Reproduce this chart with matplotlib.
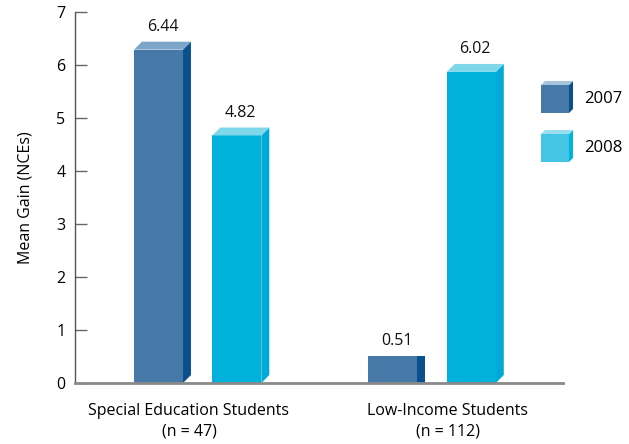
import matplotlib.pyplot as plt
from matplotlib.patches import Polygon, Rectangle

plt.rcParams['font.family'] = ['Open Sans', 'DejaVu Sans']

# data
groups = ['Special Education Students', 'Low-Income Students']
group_n = ['(n = 47)', '(n = 112)']
years = ['2007', '2008']
gain_2007 = [6.44, 0.51]
gain_2008 = [4.82, 6.02]

front = {'2007': '#4678A8', '2008': '#00B2DB'}
side = {'2007': '#0A4F8E', '2008': '#00A9D6'}
top = {'2007': '#7EA6C9', '2008': '#7FD7EA'}

W, H = 629, 444
fig = plt.figure(figsize=(W / 100, H / 100), dpi=100)
ax = fig.add_axes([75 / W, (H - 383) / H, (563 - 75) / W, (383 - 12) / H])

ax.set_xlim(-0.523, 1.558)
ax.set_ylim(0, 7)

off = 0.167     # bar offset from group center
bw = 0.209      # front face width
dx = 0.034      # depth, x units
dy = 0.15       # depth, y units
fs = 11.5


def bar3d(x, val, yr):
    xl, xr = x - bw / 2, x + bw / 2
    if val > 1:
        h, d = val - dy, dy
    else:
        # short bars are drawn flat on top in the original
        h, d = val, 0.0
    ax.add_patch(Rectangle((xl, 0), bw, h, fc=front[yr], ec='none', zorder=3))
    ax.add_patch(Polygon([(xr, 0), (xr + dx, d), (xr + dx, h + d), (xr, h)],
                         closed=True, fc=side[yr], ec='none', zorder=3))
    if d > 0:
        ax.add_patch(Polygon([(xl, h), (xl + dx, h + d), (xr + dx, h + d), (xr, h)],
                             closed=True, fc=top[yr], ec='none', zorder=3))
    ax.text(x + dx / 2, val + 0.13, f'{val:.2f}', ha='center', va='bottom',
            fontsize=fs, color='#111111')


for i in range(len(groups)):
    bar3d(i - off, gain_2007[i], '2007')
    bar3d(i + off, gain_2008[i], '2008')

# axes styling
for s in ['top', 'right']:
    ax.spines[s].set_visible(False)
ax.spines['left'].set_color('#555555')
ax.spines['left'].set_linewidth(1)
ax.spines['bottom'].set_color('#8a8a8a')
ax.spines['bottom'].set_linewidth(2)
ax.spines['bottom'].set_zorder(4)
ax.set_yticks(range(0, 8))
ax.tick_params(axis='y', direction='in', length=8.6, width=1, color='#666666',
               labelsize=fs, pad=7)
ax.set_xticks([])
ax.set_ylabel('Mean Gain (NCEs)', fontsize=fs, labelpad=16)

label_x = [-0.037, 1.067]
for i, g in enumerate(groups):
    ax.text(label_x[i], -0.53, g, ha='center', va='center', fontsize=fs,
            clip_on=False)
    ax.text(label_x[i], -0.92, group_n[i], ha='center', va='center', fontsize=fs,
            clip_on=False)

# legend with 3D boxes
leg_front = {'2007': '#4678A8', '2008': '#44C5E3'}
leg_side = {'2007': '#0A4F8E', '2008': '#00B3DC'}
leg_top = {'2007': '#A8C3DC', '2008': '#9ADFEF'}
leg_y = {'2007': 113, '2008': 162}


def fc(px, py):
    return (px / W, (H - py) / H)


for yr in years:
    x0, y0 = 541, leg_y[yr]
    w, h, d = 28, 28, 4
    fig.add_artist(Polygon([fc(x0, y0), fc(x0 + w, y0), fc(x0 + w, y0 - h), fc(x0, y0 - h)],
                           closed=True, fc=leg_front[yr], ec='none', transform=fig.transFigure))
    fig.add_artist(Polygon([fc(x0 + w, y0), fc(x0 + w + d, y0 - d), fc(x0 + w + d, y0 - h - d),
                            fc(x0 + w, y0 - h)],
                           closed=True, fc=leg_side[yr], ec='none', transform=fig.transFigure))
    fig.add_artist(Polygon([fc(x0, y0 - h), fc(x0 + d, y0 - h - d), fc(x0 + w + d, y0 - h - d),
                            fc(x0 + w, y0 - h)],
                           closed=True, fc=leg_top[yr], ec='none', transform=fig.transFigure))
    fig.text(584 / W, (H - (y0 - h / 2)) / H, yr, ha='left', va='center', fontsize=12)

fig.savefig('out.png', dpi=100)
